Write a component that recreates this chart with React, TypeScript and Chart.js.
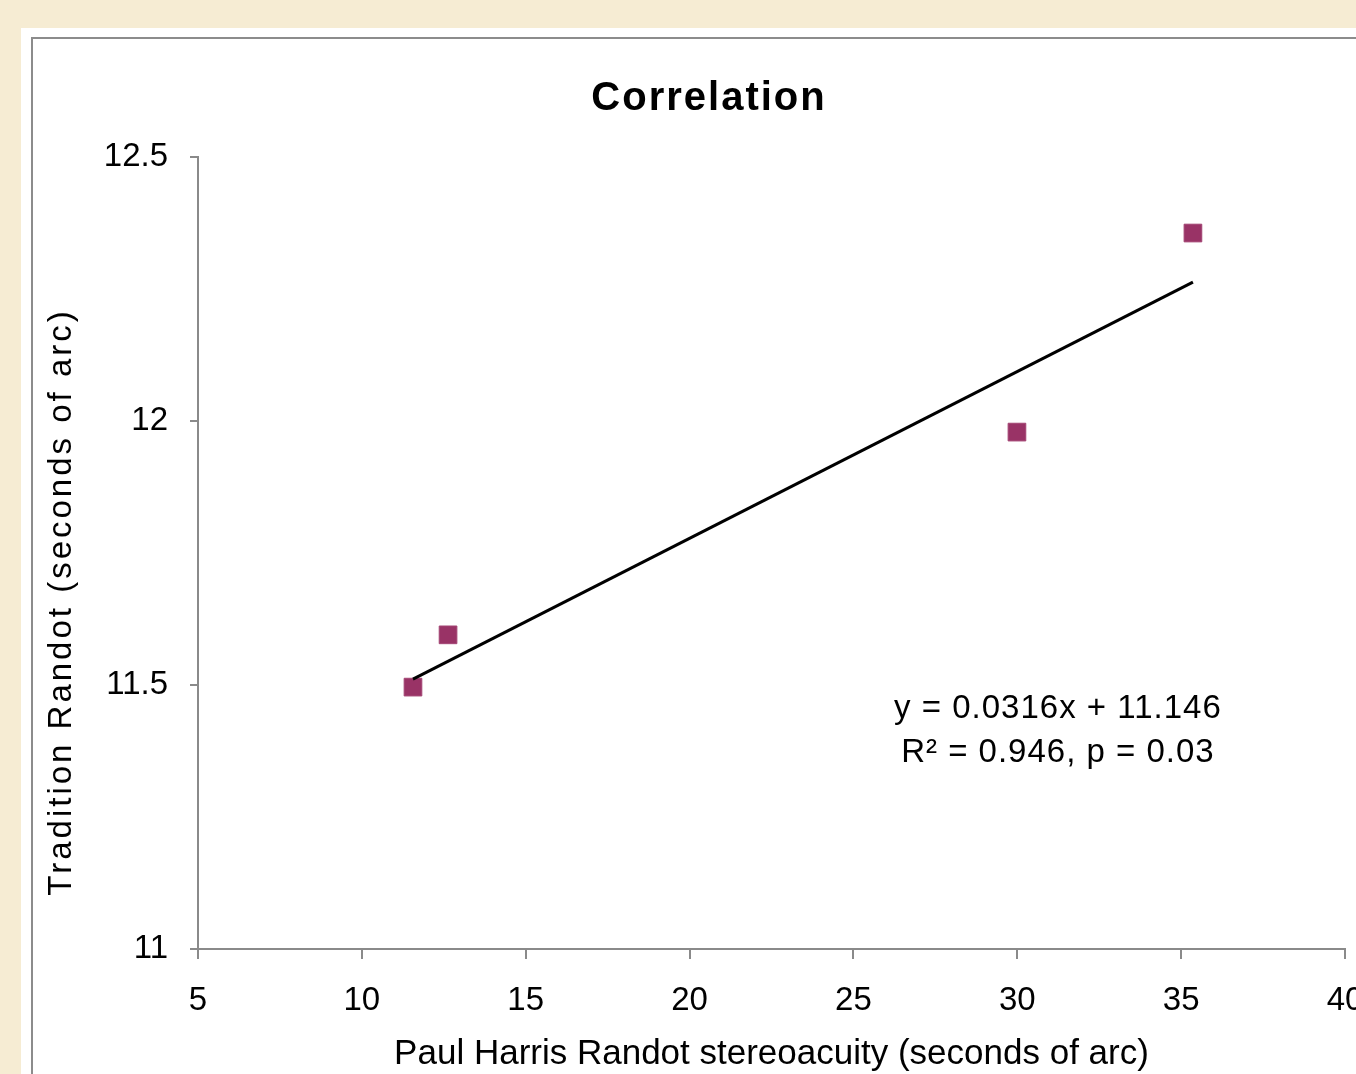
import React, { useEffect, useRef } from 'react';
import { Chart, registerables } from 'chart.js';

Chart.register(...registerables);

// ---- Data ----
const pointX = [11.56, 12.63, 29.99, 35.36];
const pointY = [11.496, 11.595, 11.979, 12.356];

const trendX = [11.56, 35.36];
const trendY = [11.511, 12.263];

const xMin = 5;
const xMax = 40;
const xStep = 5;
const yMin = 11;
const yMax = 12.5;
const yStep = 0.5;

const titleText = 'Correlation';
const xTitle = 'Paul Harris Randot stereoacuity (seconds of arc)';
const yTitle = 'Tradition Randot (seconds of arc)';
const equationLines = ['y = 0.0316x + 11.146', 'R\u00B2 = 0.946, p = 0.03'];
const equationX = 31.24;
const equationY = [11.455, 11.372];

const FONT = '"Liberation Sans", Arial, Helvetica, sans-serif';

const textPlugin = {
  id: 'extraTexts',
  afterDraw(chart: any) {
    const { ctx, chartArea, scales } = chart;
    ctx.save();
    ctx.fillStyle = '#000';
    ctx.textAlign = 'center';
    ctx.textBaseline = 'middle';

    // chart title
    ctx.font = `bold 40px ${FONT}`;
    (ctx as any).letterSpacing = '2px';
    ctx.fillText(titleText, chartArea.left + 511, chartArea.top - 58);

    // y axis title
    ctx.font = `33px ${FONT}`;
    (ctx as any).letterSpacing = '3px';
    ctx.save();
    ctx.translate(chartArea.left - 136, chartArea.top + 445);
    ctx.rotate(-Math.PI / 2);
    ctx.fillText(yTitle, 0, 0);
    ctx.restore();

    // regression equation
    ctx.font = `33px ${FONT}`;
    (ctx as any).letterSpacing = '1px';
    const ex = scales.x.getPixelForValue(equationX);
    equationLines.forEach((line, i) => {
      ctx.fillText(line, ex, scales.y.getPixelForValue(equationY[i]));
    });
    (ctx as any).letterSpacing = '0px';
    ctx.restore();
  },
};

export default function App() {
  const ref = useRef<HTMLCanvasElement>(null);

  useEffect(() => {
    const canvas = ref.current;
    if (!canvas) return;
    const axisGray = '#8a8a8a';
    const chart = new Chart(canvas, {
      type: 'scatter',
      data: {
        datasets: [
          {
            type: 'line',
            label: 'Trend',
            data: trendX.map((x, i) => ({ x, y: trendY[i] })),
            borderColor: '#000',
            borderWidth: 3,
            pointRadius: 0,
            fill: false,
            order: 0,
          } as any,
          {
            label: 'Data',
            data: pointX.map((x, i) => ({ x, y: pointY[i] })),
            pointStyle: 'rect',
            pointRadius: 12.5,
            backgroundColor: '#993366',
            borderColor: '#a34473',
            borderWidth: 1,
            order: 1,
          },
        ],
      },
      options: {
        responsive: false,
        animation: false,
        layout: { padding: { top: 157, right: 55, bottom: 0, left: 0 } },
        plugins: {
          legend: { display: false },
          tooltip: { enabled: false },
          title: { display: false },
        },
        scales: {
          x: {
            type: 'linear',
            min: xMin,
            max: xMax,
            afterFit: (scale: any) => {
              scale.height = 125;
            },
            ticks: {
              stepSize: xStep,
              color: '#000',
              padding: 22,
              font: { family: FONT, size: 33 },
              maxRotation: 0,
              callback: (v: any) => String(Number(v)),
            },
            grid: {
              drawOnChartArea: false,
              drawTicks: true,
              tickLength: 10,
              color: axisGray,
              lineWidth: 2,
            },
            border: { display: true, color: axisGray, width: 2 },
            title: {
              display: true,
              text: xTitle,
              color: '#000',
              font: { family: FONT, size: 35 },
              padding: { top: 0, bottom: -1 },
            },
          },
          y: {
            type: 'linear',
            min: yMin,
            max: yMax,
            afterFit: (scale: any) => {
              scale.width = 198;
            },
            ticks: {
              stepSize: yStep,
              color: '#000',
              padding: 22,
              font: { family: FONT, size: 33 },
              callback: (v: any) => String(Number(v)),
            },
            grid: {
              drawOnChartArea: false,
              drawTicks: true,
              tickLength: 8,
              color: axisGray,
              lineWidth: 2,
            },
            border: { display: true, color: axisGray, width: 2 },
          },
        },
      },
      plugins: [textPlugin],
    } as any);
    return () => chart.destroy();
  }, []);

  return (
    <div
      style={{
        position: 'fixed',
        left: 0,
        top: 0,
        width: 1356,
        height: 1074,
        overflow: 'hidden',
        background: '#F6ECD3',
      }}
    >
      <div
        style={{
          position: 'absolute',
          left: 21,
          top: 28,
          width: 1400,
          height: 1100,
          background: '#ffffff',
        }}
      />
      <div
        style={{
          position: 'absolute',
          left: 31,
          top: 37,
          width: 1400,
          height: 1100,
          border: '2px solid #8c8c8c',
          boxSizing: 'border-box',
        }}
      />
      <canvas
        ref={ref}
        width={1400}
        height={1074}
        style={{ position: 'absolute', left: 0, top: 0, width: 1400, height: 1074 }}
      />
    </div>
  );
}
